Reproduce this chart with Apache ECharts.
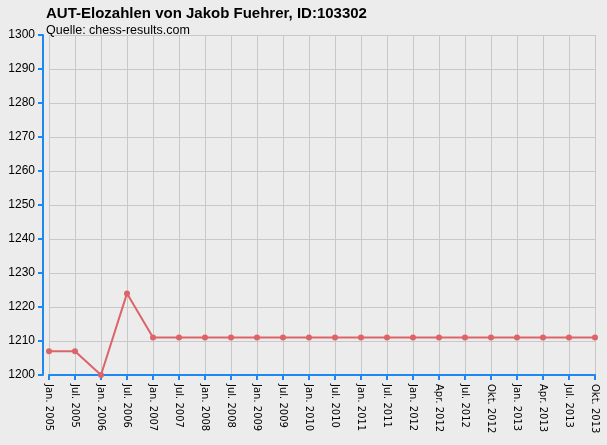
<!DOCTYPE html>
<html>
<head>
<meta charset="utf-8">
<script src="https://cdn.jsdelivr.net/npm/echarts@6/dist/echarts.min.js"></script>
<style>
  html, body { margin: 0; padding: 0; background: #ececec; }
  #main { width: 607px; height: 445px; }
</style>
</head>
<body>
<div id="main"></div>
<script>
let months = ['Jan. 2005', 'Jul. 2005', 'Jan. 2006', 'Jul. 2006', 'Jan. 2007', 'Jul. 2007',
    'Jan. 2008', 'Jul. 2008', 'Jan. 2009', 'Jul. 2009', 'Jan. 2010', 'Jul. 2010',
    'Jan. 2011', 'Jul. 2011', 'Jan. 2012', 'Apr. 2012', 'Jul. 2012', 'Okt. 2012',
    'Jan. 2013', 'Apr. 2013', 'Jul. 2013', 'Okt. 2013'];
let elo = [1207, 1207, 1200, 1224, 1211, 1211, 1211, 1211, 1211, 1211, 1211, 1211,
    1211, 1211, 1211, 1211, 1211, 1211, 1211, 1211, 1211, 1211];
let eloMin = 1200, eloMax = 1300, eloStep = 10;

let blue = '#1e88f0';
let chart = echarts.init(document.getElementById('main'));
chart.setOption({
    backgroundColor: '#ececec',
    animation: false,
    title: {
        text: 'AUT-Elozahlen von Jakob Fuehrer, ID:103302',
        subtext: 'Quelle: chess-results.com',
        left: 41,
        top: 1,
        itemGap: 3,
        textStyle: {fontFamily: 'Liberation Sans', fontSize: 15, fontWeight: 'bold', color: '#000'},
        subtextStyle: {fontFamily: 'Liberation Sans', fontSize: 12.5, color: '#000'}
    },
    grid: {left: 49, right: 12, top: 35, bottom: 70, containLabel: false},
    xAxis: {
        type: 'category',
        data: months,
        boundaryGap: false,
        axisLine: {lineStyle: {color: blue, width: 2}},
        axisTick: {length: 5, lineStyle: {color: blue, width: 2}},
        axisLabel: {rotate: -90, fontFamily: 'DejaVu Sans', fontSize: 10, color: '#000', margin: 9, interval: 0},
        splitLine: {show: true, lineStyle: {color: '#c8c8c8', width: 1}}
    },
    yAxis: {
        type: 'value',
        min: eloMin,
        max: eloMax,
        interval: eloStep,
        offset: 6,
        axisLine: {show: true, lineStyle: {color: blue, width: 2}},
        axisTick: {show: true, length: 5, lineStyle: {color: blue, width: 2}},
        axisLabel: {fontFamily: 'Liberation Sans', fontSize: 12, color: '#000', margin: 8,
            formatter: v => String(v)},
        splitLine: {lineStyle: {color: '#c8c8c8', width: 1}}
    },
    series: [{
        type: 'line',
        data: elo,
        symbol: 'circle',
        symbolSize: 6,
        lineStyle: {color: '#dc6468', width: 2},
        itemStyle: {color: '#dc6468'}
    }]
});
</script>
</body>
</html>
